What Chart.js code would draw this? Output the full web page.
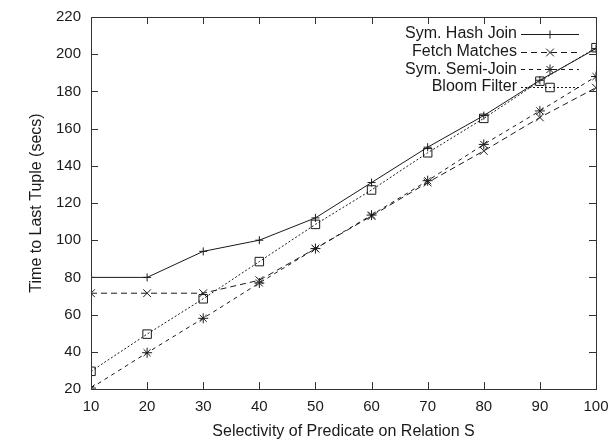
<!DOCTYPE html>
<html>
<head>
<meta charset="utf-8">
<script src="https://cdn.jsdelivr.net/npm/chart.js@4"></script>
<style>
  html, body { margin: 0; padding: 0; background: #fff; }
  #wrap { width: 613px; height: 440px; }
</style>
</head>
<body>
<div id="wrap"><canvas id="c" width="613" height="440"></canvas></div>
<script>
// ---- data ----
const selectivity = [10, 20, 30, 40, 50, 60, 70, 80, 90, 100];
const symHashJoin = [80, 80, 94, 100, 112, 131, 150, 167, 186, 203];
const fetchMatches = [71.5, 71.5, 71.5, 78.5, 95.5, 113, 131, 148, 166, 182];
const symSemiJoin = [20.5, 39.5, 58, 77, 95.5, 113.5, 132, 151.5, 169.5, 188];
const bloomFilter = [29.5, 49.5, 68.5, 88.5, 108.5, 127, 147, 165.5, 185.5, 203.5];
const seriesLabels = ['Sym. Hash Join', 'Fetch Matches', 'Sym. Semi-Join', 'Bloom Filter'];
const yTicks = [20, 40, 60, 80, 100, 120, 140, 160, 180, 200, 220];
const xTicks = selectivity;

const FONT = "'Liberation Sans', Arial, sans-serif";
const INK = '#1a1a1a';

function pts(arr) { return selectivity.map((x, i) => ({ x: x, y: arr[i] })); }

const styles = [
  { dash: [], pointStyle: 'cross', radius: 4 },
  { dash: [6, 4], pointStyle: 'crossRot', radius: 5.5 },
  { dash: [4, 4], pointStyle: 'star', radius: 5 },
  { dash: [2, 2], pointStyle: 'rect', radius: 6 }
];
const values = [symHashJoin, fetchMatches, symSemiJoin, bloomFilter];

const datasets = values.map((v, i) => ({
  label: seriesLabels[i],
  data: pts(v),
  borderColor: INK,
  backgroundColor: 'rgba(0,0,0,0)',
  borderWidth: 1,
  borderDash: styles[i].dash,
  pointStyle: styles[i].pointStyle,
  pointRadius: styles[i].radius,
  pointBorderColor: INK,
  pointBackgroundColor: 'rgba(0,0,0,0)',
  pointBorderWidth: 1,
  tension: 0,
  fill: false
}));

// frame, inward ticks, and legend
const framePlugin = {
  id: 'frame',
  afterDatasetsDraw(chart) {
    const { ctx, chartArea: a, scales } = chart;
    ctx.save();
    ctx.strokeStyle = '#333';
    ctx.lineWidth = 1;
    ctx.setLineDash([]);
    ctx.strokeRect(Math.round(a.left) + 0.5, Math.round(a.top) + 0.5,
      Math.round(a.right - a.left), Math.round(a.bottom - a.top));
    const L = 7;
    ctx.beginPath();
    scales.y.ticks.forEach(t => {
      const y = Math.round(scales.y.getPixelForValue(t.value)) + 0.5;
      ctx.moveTo(a.left, y); ctx.lineTo(a.left + L, y);
      ctx.moveTo(a.right, y); ctx.lineTo(a.right - L, y);
    });
    scales.x.ticks.forEach(t => {
      const x = Math.round(scales.x.getPixelForValue(t.value)) + 0.5;
      ctx.moveTo(x, a.bottom); ctx.lineTo(x, a.bottom - L);
      ctx.moveTo(x, a.top); ctx.lineTo(x, a.top + L);
    });
    ctx.stroke();

    // legend (gnuplot style: right-aligned text, sample line with marker)
    const textRight = a.right - 79;
    const sx0 = a.right - 75, sx1 = a.right - 17, sxm = (sx0 + sx1) / 2;
    ctx.font = '16px ' + FONT;
    ctx.textAlign = 'right';
    ctx.textBaseline = 'middle';
    chart.data.datasets.forEach((ds, i) => {
      const y = a.top + 17 + i * 17.6;
      ctx.fillStyle = INK;
      ctx.fillText(ds.label, textRight, y);
      ctx.strokeStyle = INK;
      ctx.lineWidth = 1;
      ctx.setLineDash(ds.borderDash);
      ctx.beginPath();
      ctx.moveTo(sx0, Math.round(y) + 0.5);
      ctx.lineTo(sx1, Math.round(y) + 0.5);
      ctx.stroke();
      ctx.setLineDash([]);
      ctx.fillStyle = 'rgba(0,0,0,0)';
      Chart.helpers.drawPoint(ctx, {
        pointStyle: ds.pointStyle, radius: ds.pointRadius, rotation: 0, borderWidth: 1
      }, sxm, Math.round(y) + 0.5);
    });
    ctx.restore();
  }
};

new Chart(document.getElementById('c'), {
  type: 'line',
  data: { datasets: datasets },
  plugins: [framePlugin],
  options: {
    responsive: false,
    animation: false,
    layout: { padding: { top: 17, right: 17, left: 0, bottom: 0 } },
    plugins: { legend: { display: false }, tooltip: { enabled: false } },
    scales: {
      x: {
        type: 'linear',
        min: 10, max: 100,
        afterBuildTicks(scale) { scale.ticks = xTicks.map(v => ({ value: v })); },
        afterFit(scale) { scale.height = 51; scale.paddingLeft = 0; scale.paddingRight = 0; },
        grid: { display: false, drawTicks: false },
        border: { display: false },
        ticks: { color: INK, font: { family: FONT, size: 15 }, padding: 9, maxRotation: 0 },
        title: {
          display: true, text: 'Selectivity of Predicate on Relation S',
          color: INK, font: { family: FONT, size: 16 }, padding: { top: 0, bottom: -1 }
        }
      },
      y: {
        type: 'linear',
        min: 20, max: 220,
        afterBuildTicks(scale) { scale.ticks = yTicks.map(v => ({ value: v })); },
        afterFit(scale) { scale.width = 91; scale.paddingTop = 0; scale.paddingBottom = 0; },
        grid: { display: false, drawTicks: false },
        border: { display: false },
        ticks: { color: INK, font: { family: FONT, size: 15 }, padding: 10 },
        title: {
          display: true, text: 'Time to Last Tuple (secs)',
          color: INK, font: { family: FONT, size: 16 }, padding: { top: 27, bottom: 0 }
        }
      }
    }
  }
});
</script>
</body>
</html>
